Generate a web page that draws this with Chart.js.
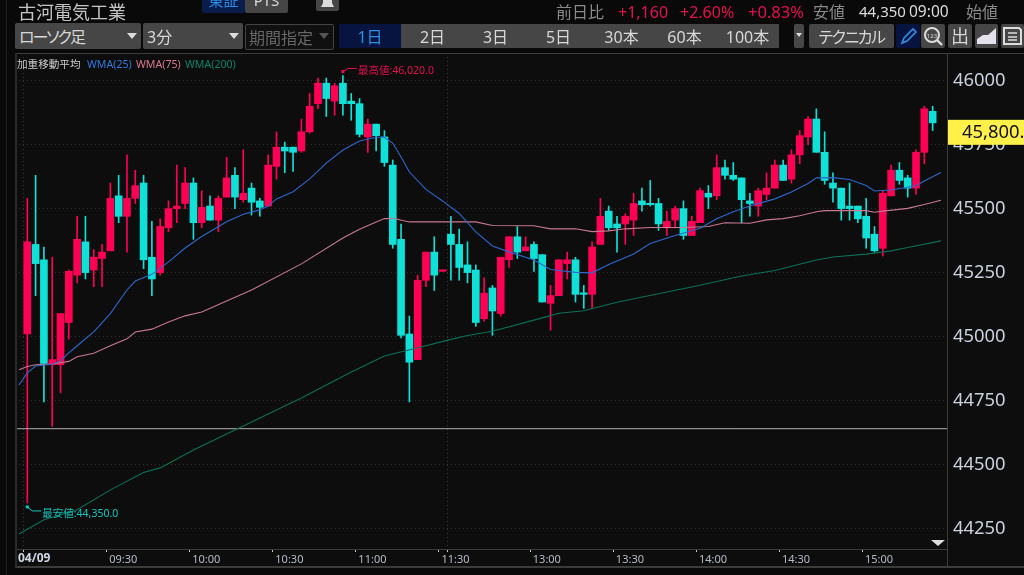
<!DOCTYPE html>
<html lang="ja">
<head>
<meta charset="utf-8">
<title>古河電気工業</title>
<script src="https://cdn.jsdelivr.net/npm/chart.js@4"></script>
<style>
html, body { margin: 0; padding: 0; background: #090909; overflow: hidden; }
body { width: 1024px; height: 575px; position: relative; font-family: "Noto Sans", "Noto Sans CJK JP", sans-serif; font-feature-settings: "palt"; }
canvas { position: absolute; left: 0; top: 0; }
.t { position: absolute; white-space: nowrap; line-height: 1; }
.b { position: absolute; background: #464646; color: #d8d8d8; border-radius: 2px; font-size: 16px; line-height: 28px; text-align: center; white-space: nowrap; overflow: hidden; }
.arrow { position: absolute; width: 0; height: 0; border-left: 5px solid transparent; border-right: 5px solid transparent; border-top: 6px solid #ddd; }
.gray { color: #8a8a8a; }
.red { color: #e6104f; }
svg { position: absolute; left: 0; top: 0; }
</style>
</head>
<body>
<canvas id="chart" width="1024" height="575"></canvas>

<div class="t" style="left:18px;top:3px;font-size:18px;color:#c4c4c4">古河電気工業</div>
<div class="b" style="left:202px;top:-13px;width:43px;background:#0a1c4c;color:#2a8ae0;line-height:26px;font-size:15px">東証</div>
<div class="b" style="left:245px;top:-13px;width:43px;line-height:26px;font-size:15px">PTS</div>
<div class="b" style="left:316px;top:-14px;width:23px;height:25px">
  <svg width="23" height="25"><path d="M5 21 L18 21 L16 17 L16 8 L7 8 L7 17 Z" fill="#ddd"/></svg>
</div>

<div class="t gray" style="left:556px;top:4px;font-size:16px">前日比</div>
<div class="t red" style="left:618px;top:4px;font-size:16px">+1,160</div>
<div class="t red" style="left:680px;top:4px;font-size:16px">+2.60%</div>
<div class="t red" style="left:748px;top:4px;font-size:16.5px">+0.83%</div>
<div class="t gray" style="left:813px;top:4px;font-size:16px">安値</div>
<div class="t" style="left:859px;top:4px;font-size:15px;color:#dcdcdc">44,350</div>
<div class="t" style="left:909px;top:4px;font-size:15.5px;color:#dcdcdc">09:00</div>
<div class="t gray" style="left:966px;top:4px;font-size:16px">始値</div>

<div class="b" style="left:15px;top:23px;width:126px;height:26px;text-align:left;text-indent:4px;letter-spacing:-2px">ローソク足</div>
<div class="arrow" style="left:127px;top:33px"></div>
<div class="b" style="left:143px;top:23px;width:100px;height:26px;text-align:left;text-indent:4px">3分</div>
<div class="arrow" style="left:229px;top:33px"></div>
<div class="b" style="left:245px;top:24px;width:87px;height:24px;line-height:26px;background:#101010;border:1px solid #444;color:#666;text-align:left;text-indent:3px">期間指定</div>
<div class="arrow" style="left:319px;top:33px;border-top-color:#555"></div>

<div class="b" style="left:339px;top:24px;width:62px;height:24px;line-height:27px;background:#07143f;color:#2a90e8;border-radius:0">1日</div>
<div class="b" style="left:401px;top:24px;width:63px;height:24px;line-height:27px;border-radius:0">2日</div>
<div class="b" style="left:464px;top:24px;width:63px;height:24px;line-height:27px;border-radius:0">3日</div>
<div class="b" style="left:527px;top:24px;width:63px;height:24px;line-height:27px;border-radius:0">5日</div>
<div class="b" style="left:590px;top:24px;width:63px;height:24px;line-height:27px;border-radius:0">30本</div>
<div class="b" style="left:653px;top:24px;width:63px;height:24px;line-height:27px;border-radius:0">60本</div>
<div class="b" style="left:716px;top:24px;width:63px;height:24px;line-height:27px;border-radius:0">100本</div>
<div class="b" style="left:794px;top:24px;width:10px;height:24px"></div>
<div class="arrow" style="left:796px;top:33px;border-left-width:3px;border-right-width:3px;border-top-width:4px"></div>
<div class="b" style="left:809px;top:24px;width:85px;height:24px;line-height:27px;letter-spacing:-1.5px">テクニカル</div>

<div class="b" style="left:896px;top:24px;width:24px;height:24px;background:#07143f">
  <svg width="24" height="24"><path d="M6 19 L8 14 L17 5 L20 8 L11 17 Z" fill="none" stroke="#2a90e8" stroke-width="1.6"/></svg>
</div>
<div class="b" style="left:921px;top:24px;width:24px;height:24px">
  <svg width="24" height="24"><circle cx="11" cy="11" r="7" fill="none" stroke="#ddd" stroke-width="2"/><path d="M16 16 L21 21" stroke="#ddd" stroke-width="2.4"/><text x="11" y="13.5" font-size="6" fill="#ddd" text-anchor="middle">123</text></svg>
</div>
<div class="b" style="left:948px;top:24px;width:24px;height:24px;line-height:25px;font-size:18px">出</div>
<div class="b" style="left:975px;top:24px;width:23px;height:24px">
  <svg width="23" height="24"><path d="M2 20 L2 15 L8 11 L13 11 L21 4 L21 20 Z" fill="#e4e0ec"/></svg>
</div>
<div class="b" style="left:1001px;top:24px;width:23px;height:24px">
  <svg width="23" height="24"><path d="M3 4 L18 4 L20 6 L20 20 L3 20 Z" fill="none" stroke="#ddd" stroke-width="2"/><path d="M7 9 L16 9 M7 13 L16 13 M7 16 L16 16" stroke="#ddd" stroke-width="1.5"/></svg>
</div>

<div class="t" style="left:17px;top:59px;font-size:10.6px;color:#cfcfcf">加重移動平均</div>
<div class="t" style="left:87px;top:59px;font-size:10.6px;color:#2f78e0">WMA(25)</div>
<div class="t" style="left:136px;top:59px;font-size:10.6px;color:#d87890">WMA(75)</div>
<div class="t" style="left:185px;top:59px;font-size:10.6px;color:#0b8468">WMA(200)</div>

<script>
// 3 minute candles, 04/09
let opens = [
    45010, 45360, 45300, 44890, 44890, 45055, 45240, 45370, 45260, 45305,
    45335, 45550, 45470, 45540, 45600, 45310, 45250, 45425, 45500, 45520,
    45600, 45445, 45510, 45455, 45545, 45630, 45535, 45580, 45530, 45510,
    45665, 45740, 45740, 45725, 45800, 45910, 45990, 45920, 45990, 45920,
    45910, 45780, 45830, 45780, 45670, 45380, 45010, 44910, 45220, 45330,
    45255, 45400, 45360, 45280, 45260, 45070, 45190, 45090, 45300, 45390,
    45335, 45360, 45320, 45130, 45160, 45285, 45300, 45170, 45165, 45360,
    45490, 45440, 45440, 45455, 45530, 45520, 45520, 45425, 45455, 45500,
    45395, 45445, 45560, 45550, 45660, 45630, 45620, 45530, 45510, 45555,
    45580, 45670, 45615, 45710, 45780, 45850, 45720, 45600, 45580, 45510,
    45510, 45470, 45400, 45345, 45550, 45650, 45620, 45580, 45720, 45880
];
let highs = [
    45540, 45630, 45350, 45310, 45090, 45260, 45470, 45470, 45340, 45360,
    45600, 45630, 45710, 45650, 45630, 45450, 45460, 45530, 45670, 45660,
    45620, 45570, 45550, 45550, 45700, 45660, 45730, 45600, 45540, 45710,
    45800, 45760, 45740, 45850, 45950, 46010, 46010, 45990, 46020, 45950,
    45930, 45850, 45830, 45805, 45690, 45440, 45080, 45240, 45330, 45390,
    45260, 45470, 45420, 45370, 45280, 45230, 45200, 45310, 45390, 45430,
    45390, 45370, 45320, 45200, 45300, 45330, 45310, 45200, 45370, 45540,
    45510, 45470, 45480, 45560, 45580, 45610, 45540, 45490, 45510, 45530,
    45470, 45580, 45590, 45710, 45690, 45680, 45620, 45560, 45580, 45640,
    45690, 45690, 45730, 45805, 45860, 45890, 45800, 45640, 45580, 45600,
    45510, 45540, 45430, 45570, 45670, 45680, 45630, 45730, 45900, 45900
];
let lows = [
    44350, 45160, 44745, 44650, 44780, 44990, 45210, 45225, 45195, 45195,
    45335, 45445, 45330, 45520, 45265, 45160, 45240, 45410, 45445, 45500,
    45380, 45425, 45455, 45410, 45545, 45500, 45525, 45475, 45470, 45510,
    45615, 45640, 45645, 45720, 45795, 45890, 45860, 45865, 45865, 45845,
    45780, 45720, 45725, 45665, 45345, 44995, 44745, 44910, 45195, 45180,
    45255, 45220, 45220, 45210, 45040, 45060, 45005, 45080, 45270, 45305,
    45335, 45255, 45135, 45025, 45160, 45225, 45135, 45110, 45110, 45360,
    45415, 45330, 45360, 45395, 45490, 45510, 45415, 45395, 45425, 45380,
    45395, 45445, 45500, 45535, 45615, 45610, 45445, 45470, 45470, 45535,
    45580, 45610, 45600, 45675, 45750, 45720, 45595, 45525, 45455, 45455,
    45445, 45345, 45330, 45315, 45550, 45595, 45545, 45555, 45675, 45805
];
let closes = [
    45370, 45285, 44895, 44910, 45090, 45255, 45380, 45250, 45310, 45330,
    45540, 45470, 45540, 45590, 45300, 45225, 45430, 45500, 45510, 45600,
    45445, 45505, 45455, 45540, 45620, 45545, 45560, 45525, 45505, 45670,
    45740, 45725, 45720, 45800, 45900, 45990, 45930, 45980, 45910, 45910,
    45790, 45830, 45785, 45680, 45360, 45005, 44900, 45220, 45330, 45240,
    45260, 45360, 45270, 45250, 45055, 45170, 45100, 45310, 45390, 45330,
    45350, 45305, 45135, 45160, 45300, 45300, 45165, 45165, 45350, 45470,
    45425, 45425, 45470, 45520, 45515, 45515, 45440, 45450, 45500, 45395,
    45450, 45570, 45545, 45660, 45630, 45615, 45535, 45520, 45570, 45580,
    45670, 45610, 45710, 45785, 45850, 45720, 45610, 45580, 45500, 45500,
    45460, 45385, 45335, 45560, 45650, 45610, 45580, 45720, 45890, 45835
];

// moving averages, slot = candle number, read at the bends of each line
let wma25Slots = [-1, 0, 1, 3, 4, 5, 6, 8, 10, 12, 13, 15, 17, 19, 21, 24, 26, 28, 29, 30, 32, 34, 36, 38, 40, 42, 43, 44, 45, 46, 48, 50, 52, 54, 56, 58, 61, 63, 66, 68, 70, 73, 75, 78, 81, 83, 85, 87, 90, 92, 94, 95, 97, 99, 101, 102, 104, 107, 108, 110];
let wma25Values = [44811, 44858, 44885, 44892, 44905, 44936, 44964, 45018, 45090, 45182, 45217, 45243, 45292, 45346, 45391, 45449, 45478, 45495, 45510, 45538, 45566, 45616, 45678, 45729, 45764, 45779, 45779, 45756, 45702, 45643, 45575, 45530, 45481, 45409, 45354, 45331, 45299, 45262, 45251, 45249, 45282, 45323, 45364, 45395, 45423, 45460, 45488, 45510, 45538, 45565, 45598, 45620, 45621, 45614, 45590, 45569, 45573, 45589, 45608, 45641];

let wma75Slots = [-1, 0, 1, 3, 5, 6, 8, 10, 12, 13, 15, 17, 19, 21, 27, 33, 38, 40, 42, 43, 44, 46, 50, 54, 56, 61, 63, 66, 68, 70, 72, 75, 79, 82, 84, 87, 89, 91, 93, 95, 96, 101, 102, 103, 106, 108, 110];
let wma75Values = [44870, 44883, 44890, 44893, 44903, 44921, 44935, 44964, 44991, 45018, 45029, 45057, 45081, 45096, 45182, 45284, 45385, 45419, 45448, 45461, 45462, 45448, 45448, 45448, 45434, 45433, 45421, 45421, 45410, 45413, 45421, 45426, 45426, 45430, 45445, 45443, 45456, 45461, 45472, 45488, 45492, 45492, 45486, 45490, 45501, 45516, 45533];

let wma200Slots = [-1, 2, 6, 10, 14, 16, 20, 25, 28, 33, 39, 43, 48, 51, 53, 56, 62, 64, 67, 71, 77, 80, 86, 90, 95, 97, 101, 104, 106, 110];
let wma200Values = [44229, 44284, 44323, 44401, 44469, 44487, 44557, 44635, 44682, 44760, 44862, 44924, 44964, 44989, 45004, 45021, 45073, 45091, 45101, 45134, 45174, 45194, 45237, 45258, 45299, 45311, 45322, 45335, 45348, 45374];

let timeSlots = [9.5, 19.5, 29.5, 39.5, 49.5, 60.5, 70.5, 80.5, 90.5, 100.5];
let timeLabels = ["09:30", "10:00", "10:30", "11:00", "11:30", "13:00", "13:30", "14:00", "14:30", "15:00"];
let sessionSlots = [-0.5, 50.5];
let dateLabel = "04/09";
let priceTicks = [44250, 44500, 44750, 45000, 45250, 45500, 45750, 46000];

let prevClose = 44640;
let lastPrice = 45800;
let dayHigh = 46020;
let dayHighSlot = 38;
let dayLow = 44350;
let dayLowSlot = 0;

const RED = "#ff0055";
const CYAN = "#0fe0d8";
const slotMin = -1.48;
const slotMax = 110.73;

let slots = opens.map((v, i) => i);
let colors = opens.map((v, i) => closes[i] >= v ? RED : CYAN);

function points(xs, ys) {
    return xs.map((x, i) => ({ x: x, y: ys[i] }));
}

// everything on the canvas that is not a dataset: frame, markers, price box
const overlay = {
    id: "overlay",
    beforeDraw(chart) {
        let c = chart.ctx, a = chart.chartArea;
        c.fillStyle = "#0d0d0d";
        c.fillRect(a.left, a.top, a.right - a.left, a.bottom - a.top);
        c.fillRect(a.right, a.top, 1024 - a.right, 567 - a.top);
        c.fillRect(a.left, a.bottom, a.right - a.left, 567 - a.bottom);
        c.fillStyle = "#1e1e1e";
        c.fillRect(6, 0, 1, 575);
    },
    beforeDatasetsDraw(chart) {
        let c = chart.ctx, a = chart.chartArea, x = chart.scales.x;
        c.save();
        c.strokeStyle = "#3a3a3a";
        c.setLineDash([1, 3]);
        sessionSlots.forEach(s => {
            let px = Math.round(x.getPixelForValue(s)) + 0.5;
            c.beginPath();
            c.moveTo(px, a.top);
            c.lineTo(px, a.bottom);
            c.stroke();
        });
        c.restore();
    },
    afterDraw(chart) {
        let c = chart.ctx, a = chart.chartArea, x = chart.scales.x, y = chart.scales.y;
        c.save();

        // frame
        c.fillStyle = "#3c3c3c";
        c.fillRect(15, a.top, 1009, 1);
        c.fillRect(a.right, a.top, 1, 514);
        c.fillRect(15, a.bottom, a.right - 15, 1);
        c.fillRect(15, 566, 1009, 2);
        c.fillStyle = "#2a2a2a";
        c.fillRect(15, a.top, 2, 514);

        // time tick marks
        c.fillStyle = "#c8c8c8";
        timeSlots.concat(sessionSlots).forEach(s => {
            c.fillRect(Math.round(x.getPixelForValue(s)), a.bottom + 1, 1, 2);
        });

        c.fillStyle = "#d0d8e4";
        c.font = "bold 12px 'Noto Sans'";
        c.textBaseline = "middle";
        c.fillText(dateLabel, 18, 558.5);

        // high marker
        let hx = x.getPixelForValue(dayHighSlot), hy = y.getPixelForValue(dayHigh) - 4;
        c.strokeStyle = c.fillStyle = "#e6104f";
        c.fillRect(hx - 1.5, hy - 1.5, 3, 3);
        c.beginPath();
        c.moveTo(hx, hy);
        c.lineTo(hx + 5, hy - 3);
        c.lineTo(hx + 14, hy - 3);
        c.stroke();
        c.font = "10.5px 'Noto Sans','Noto Sans CJK JP'";
        c.fillText("最高値:46,020.0", hx + 15, hy - 1);

        // low marker
        let lx = x.getPixelForValue(dayLowSlot), ly = y.getPixelForValue(dayLow) + 4;
        c.strokeStyle = c.fillStyle = "#10c8c0";
        c.fillRect(lx - 1.5, ly - 1.5, 3, 3);
        c.beginPath();
        c.moveTo(lx, ly);
        c.lineTo(lx + 5, ly + 4);
        c.lineTo(lx + 14, ly + 4);
        c.stroke();
        c.fillText("最安値:44,350.0", lx + 15, ly + 7);

        // last price box runs off the window on purpose
        let py = y.getPixelForValue(lastPrice);
        c.fillStyle = "#fff04a";
        c.fillRect(a.right + 1, py - 12, 1024 - a.right, 25);
        c.fillStyle = "#111";
        c.font = "18.4px 'Noto Sans'";
        c.fillText("45,800.0", 962, py + 1);

        // scroll triangle
        c.fillStyle = "#ddd";
        c.beginPath();
        c.moveTo(931, 540);
        c.lineTo(945, 540);
        c.lineTo(938, 546);
        c.fill();

        c.restore();
    }
};

new Chart(document.getElementById("chart"), {
    type: "bar",
    data: {
        datasets: [
            {
                label: "WMA(25)", type: "line", order: 1,
                data: points(wma25Slots, wma25Values),
                borderColor: "#2c68cc", borderWidth: 1.1, pointRadius: 0, tension: 0
            },
            {
                label: "WMA(75)", type: "line", order: 1,
                data: points(wma75Slots, wma75Values),
                borderColor: "#c87890", borderWidth: 1.1, pointRadius: 0, tension: 0
            },
            {
                label: "WMA(200)", type: "line", order: 1,
                data: points(wma200Slots, wma200Values),
                borderColor: "#0a7058", borderWidth: 1.1, pointRadius: 0, tension: 0
            },
            {
                label: "前日終値", type: "line", order: 1,
                data: points([slotMin, slotMax], [prevClose, prevClose]),
                borderColor: "#b0b0b0", borderWidth: 1, pointRadius: 0
            },
            {
                label: "本体", order: 2, grouped: false,
                data: points(slots, opens.map((v, i) => [v, closes[i]])),
                backgroundColor: colors, barThickness: 7, minBarLength: 1.5, borderWidth: 0
            },
            {
                label: "ヒゲ", order: 3, grouped: false,
                data: points(slots, lows.map((v, i) => [v, highs[i]])),
                backgroundColor: colors, barThickness: 1, borderWidth: 0
            }
        ]
    },
    options: {
        responsive: false,
        animation: false,
        layout: { padding: { left: 15, top: 53, right: 0, bottom: 8 } },
        plugins: { legend: { display: false }, tooltip: { enabled: false } },
        scales: {
            x: {
                type: "linear",
                min: slotMin,
                max: slotMax,
                offset: false,
                grid: { display: false, drawTicks: false },
                border: { display: false },
                afterBuildTicks: s => { s.ticks = timeSlots.map(v => ({ value: v })); },
                afterFit: s => { s.height = 18; },
                ticks: {
                    autoSkip: false,
                    maxRotation: 0,
                    align: "start",
                    labelOffset: 3,
                    padding: 4,
                    color: "#b4bcc8",
                    font: { family: "'Noto Sans'", size: 11 },
                    callback: v => timeLabels[timeSlots.indexOf(v)]
                }
            },
            y: {
                position: "right",
                min: 44170,
                max: 46108,
                grid: { color: "#303030", drawTicks: false },
                border: { display: false, dash: [1, 3] },
                afterBuildTicks: s => { s.ticks = priceTicks.map(v => ({ value: v })); },
                afterFit: s => { s.width = 77; },
                ticks: {
                    autoSkip: false,
                    padding: 6,
                    color: "#c8d0dc",
                    font: { family: "'Noto Sans'", size: 18.4 },
                    callback: v => String(v)
                }
            }
        }
    },
    plugins: [overlay]
});
</script>
</body>
</html>
